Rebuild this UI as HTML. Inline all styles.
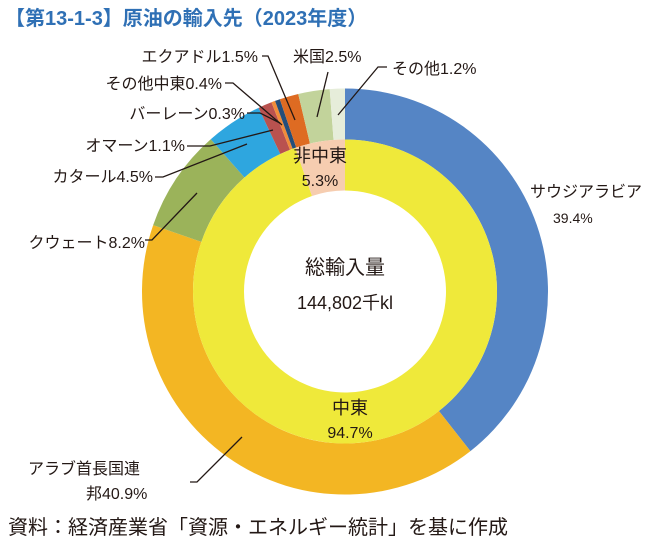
<!DOCTYPE html>
<html><head><meta charset="utf-8"><style>
body{margin:0;background:#fff;width:663px;height:549px;overflow:hidden}
svg text{font-family:"Liberation Sans","Noto Sans CJK JP",sans-serif;fill:#231815}
</style></head><body>
<svg id="s" width="663" height="549" viewBox="0 0 663 549">
<text x="5" y="25" style="font-size:20px;font-weight:bold;fill:#2F70B5">【第13-1-3】原油の輸入先（2023年度）</text>
<g id="p"></g>
<g stroke="#231815" stroke-width="1.3" fill="none">
<polyline points="262,56 268,56 295,120"/>
<polyline points="225,83 233,83 282,125"/>
<polyline points="247,113 260,113 280,123"/>
<polyline points="187,146 210,146 273,130"/>
<polyline points="155,177 163,177 247,144"/>
<polyline points="328,72 317,117"/>
<polyline points="387,67 378,67 338,115"/>
<polyline points="197,193 152,240 145,240"/>
<polyline points="242,437 197,482 190,482"/>
</g>
<g style="font-size:16px">
<text x="530" y="197">サウジアラビア</text>
<text x="553" y="223" style="font-size:14px">39.4%</text>
<text x="28" y="474">アラブ首長国連</text>
<text x="86" y="499">邦40.9%</text>
<text x="145" y="248" text-anchor="end">クウェート8.2%</text>
<text x="153" y="182" text-anchor="end">カタール4.5%</text>
<text x="185" y="151" text-anchor="end">オマーン1.1%</text>
<text x="245" y="119" text-anchor="end">バーレーン0.3%</text>
<text x="222" y="89" text-anchor="end">その他中東0.4%</text>
<text x="258" y="62" text-anchor="end">エクアドル1.5%</text>
<text x="293" y="62">米国2.5%</text>
<text x="392" y="74">その他1.2%</text>
<text x="320" y="162" text-anchor="middle" style="font-size:18px">非中東</text>
<text x="320" y="186" text-anchor="middle">5.3%</text>
<text x="350" y="414" text-anchor="middle" style="font-size:18px">中東</text>
<text x="350" y="438" text-anchor="middle">94.7%</text>
<text x="345" y="274" text-anchor="middle" style="font-size:20px">総輸入量</text>
<text x="345" y="309" text-anchor="middle" style="font-size:18px">144,802千kl</text>
<text x="8" y="534" style="font-size:20px">資料：経済産業省「資源・エネルギー統計」を基に作成</text>
</g>
</svg>
<script>
var cx=345,cy=291.5;
function arc(a0,a1,r0,r1,c){
 function pt(a,r){var t=a*2*Math.PI;return [cx+r*Math.sin(t),cy-r*Math.cos(t)];}
 var L=(a1-a0)>0.5?1:0,p1=pt(a0,r1),p2=pt(a1,r1),p3=pt(a1,r0),p4=pt(a0,r0);
 return '<path fill="'+c+'" d="M'+p1+' A'+r1+','+r1+' 0 '+L+' 1 '+p2+' L'+p3+' A'+r0+','+r0+' 0 '+L+' 0 '+p4+'Z"/>';
}
var o=[[39.4,'#5585C5'],[40.9,'#F3B623'],[8.2,'#9BB35A'],[4.5,'#2EA6DF'],[1.1,'#B9524F'],[0.3,'#F08C3A'],[0.4,'#244E7A'],[1.5,'#DE6B22'],[2.5,'#C2D39B'],[1.2,'#E6EDDA']];
var h='',a=0;o.forEach(function(s){h+=arc(a,a+s[0]/100,152,203,s[1]);a+=s[0]/100;});
h+=arc(0,0.947,101,152,'#EFE93A');h+=arc(0.947,1,101,152,'#F6CDB0');
document.getElementById('p').innerHTML=h;
</script>
</body></html>
